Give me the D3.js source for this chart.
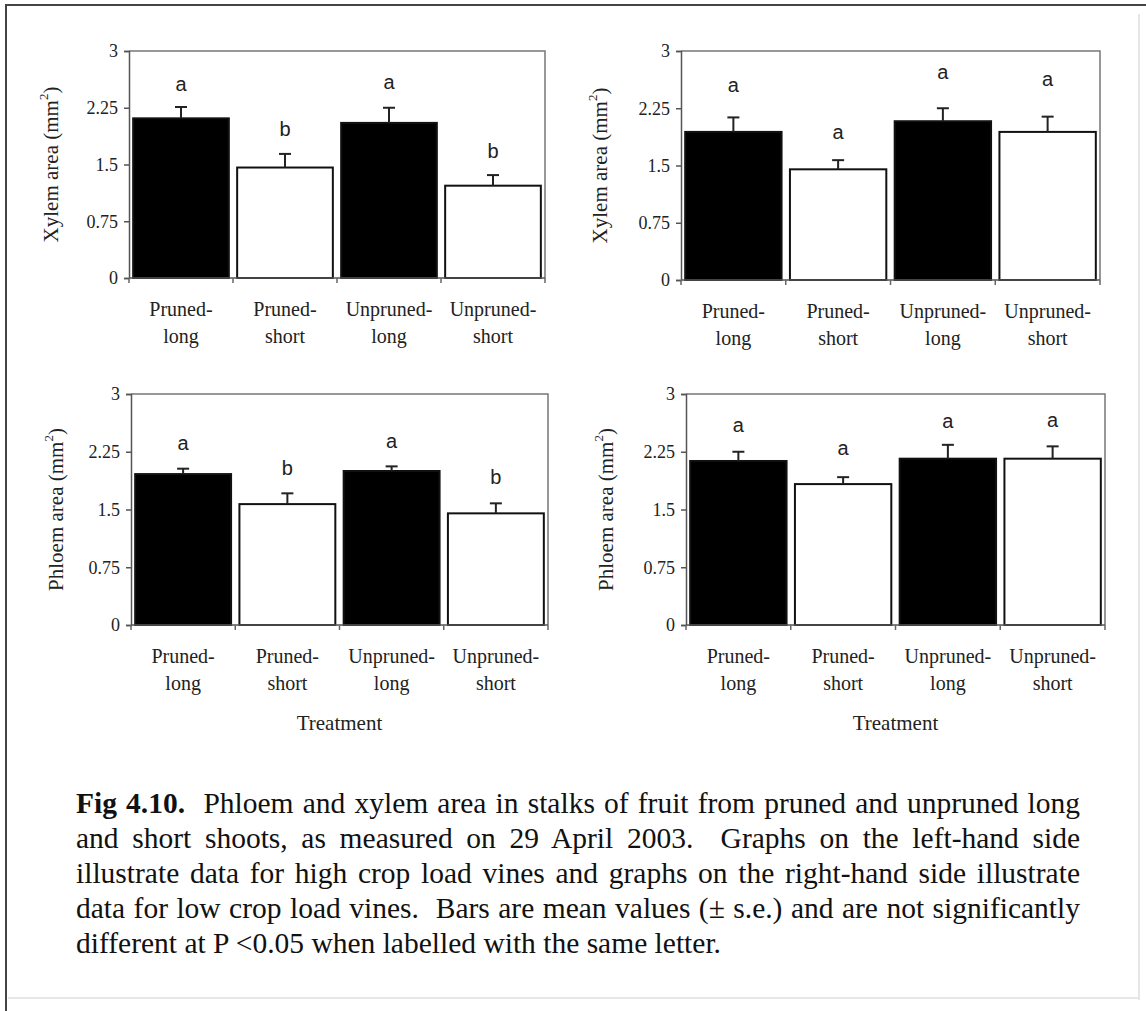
<!DOCTYPE html>
<html>
<head>
<meta charset="utf-8">
<script src="https://cdn.jsdelivr.net/npm/d3@7"></script>
<style>
  body { margin: 0; background: #fff; }
  svg { display: block; }
</style>
</head>
<body>
<div id="chart"></div>
<script>
// --- data ---
const categories = [["Pruned-", "long"], ["Pruned-", "short"], ["Unpruned-", "long"], ["Unpruned-", "short"]]
const barFill = ["#000", "#fff", "#000", "#fff"]
const yTicks = [0, 0.75, 1.5, 2.25, 3]

const xylemHigh = [2.11, 1.46, 2.05, 1.22]
const xylemHighSe = [0.15, 0.18, 0.20, 0.14]
const xylemHighLetters = ["a", "b", "a", "b"]
const xylemHighLetterAt = [2.55, 1.96, 2.58, 1.66]

const xylemLow = [1.94, 1.45, 2.08, 1.94]
const xylemLowSe = [0.19, 0.12, 0.17, 0.20]
const xylemLowLetters = ["a", "a", "a", "a"]
const xylemLowLetterAt = [2.54, 1.93, 2.71, 2.62]

const phloemHigh = [1.96, 1.57, 2.00, 1.45]
const phloemHighSe = [0.07, 0.14, 0.06, 0.13]
const phloemHighLetters = ["a", "b", "a", "b"]
const phloemHighLetterAt = [2.35, 2.03, 2.38, 1.91]

const phloemLow = [2.13, 1.83, 2.16, 2.16]
const phloemLowSe = [0.12, 0.09, 0.18, 0.16]
const phloemLowLetters = ["a", "a", "a", "a"]
const phloemLowLetterAt = [2.58, 2.29, 2.64, 2.65]

const captionLines = [
  ["Fig 4.10.", "  Phloem and xylem area in stalks of fruit from pruned and unpruned long"],
  ["", "and short shoots, as measured on 29 April 2003.  Graphs on the left-hand side"],
  ["", "illustrate data for high crop load vines and graphs on the right-hand side illustrate"],
  ["", "data for low crop load vines.  Bars are mean values (\u00b1 s.e.) and are not significantly"],
  ["", "different at P <0.05 when labelled with the same letter."]
]

const width = 1146
const height = 1011
const serif = "'Liberation Serif', 'Times New Roman', serif"
const sans = "'Liberation Sans', Arial, sans-serif"

const svg = d3.select('#chart').append('svg')
  .attr('width', width)
  .attr('height', height)

// page frame
svg.append('line').attr('x1', 5).attr('x2', width).attr('y1', 5).attr('y2', 5)
  .attr('stroke', '#444').attr('stroke-width', 2)
svg.append('line').attr('x1', 6).attr('x2', 6).attr('y1', 5).attr('y2', height)
  .attr('stroke', '#444').attr('stroke-width', 2)
svg.append('line').attr('x1', 1139).attr('x2', 1139).attr('y1', 14).attr('y2', 1000)
  .attr('stroke', '#e6e6e6').attr('stroke-width', 2)
svg.append('line').attr('x1', 8).attr('x2', 1140).attr('y1', 998).attr('y2', 998)
  .attr('stroke', '#e6e6e6').attr('stroke-width', 2)

const panels = [
  { values: xylemHigh, se: xylemHighSe, letters: xylemHighLetters, letterAt: xylemHighLetterAt,
    title: "Xylem area (mm", box: [129, 545, 51, 278], titleX: 58, xlab: false },
  { values: xylemLow, se: xylemLowSe, letters: xylemLowLetters, letterAt: xylemLowLetterAt,
    title: "Xylem area (mm", box: [681, 1100, 51, 280], titleX: 607, xlab: false },
  { values: phloemHigh, se: phloemHighSe, letters: phloemHighLetters, letterAt: phloemHighLetterAt,
    title: "Phloem area (mm", box: [131, 548, 394, 625], titleX: 63, xlab: true },
  { values: phloemLow, se: phloemLowSe, letters: phloemLowLetters, letterAt: phloemLowLetterAt,
    title: "Phloem area (mm", box: [686, 1105, 394, 625], titleX: 613, xlab: true }
]

panels.forEach(drawPanel)

function drawPanel(p) {
  const [x0, x1, yTop, yZero] = p.box
  const x = d3.scaleBand()
    .domain(d3.range(categories.length))
    .range([x0, x1])
    .paddingInner(0.08)
    .paddingOuter(0.04)
  const y = d3.scaleLinear().domain([0, 3]).range([yZero, yTop])

  const g = svg.append('g')

  // plot area frame (top and right)
  g.append('path')
    .attr('d', `M${x0},${yTop}H${x1}V${yZero}`)
    .attr('fill', 'none')
    .attr('stroke', '#777')
    .attr('stroke-width', 1.5)

  // bars
  g.selectAll('rect.bar')
    .data(p.values)
    .join('rect')
      .attr('class', 'bar')
      .attr('x', (d, i) => x(i))
      .attr('width', x.bandwidth())
      .attr('y', d => y(d))
      .attr('height', d => y(0) - y(d))
      .attr('fill', (d, i) => barFill[i])
      .attr('stroke', '#111')
      .attr('stroke-width', 2)

  // error bars (upper only)
  const err = g.selectAll('g.err')
    .data(p.values)
    .join('g')
      .attr('class', 'err')
      .attr('stroke', '#222')
      .attr('stroke-width', 2)
  err.append('line')
    .attr('x1', (d, i) => x(i) + x.bandwidth() / 2)
    .attr('x2', (d, i) => x(i) + x.bandwidth() / 2)
    .attr('y1', d => y(d))
    .attr('y2', (d, i) => y(d + p.se[i]))
  err.append('line')
    .attr('x1', (d, i) => x(i) + x.bandwidth() / 2 - 6)
    .attr('x2', (d, i) => x(i) + x.bandwidth() / 2 + 6)
    .attr('y1', (d, i) => y(d + p.se[i]))
    .attr('y2', (d, i) => y(d + p.se[i]))

  // significance letters
  g.selectAll('text.letter')
    .data(p.letters)
    .join('text')
      .attr('class', 'letter')
      .attr('x', (d, i) => x(i) + x.bandwidth() / 2)
      .attr('y', (d, i) => y(p.letterAt[i]) + 6)
      .attr('text-anchor', 'middle')
      .attr('font-family', sans)
      .attr('font-size', 20)
      .attr('fill', '#222')
      .text(d => d)

  // y axis
  const yAxis = g.append('g')
    .attr('transform', `translate(${x0},0)`)
    .call(d3.axisLeft(y).tickValues(yTicks).tickFormat(d => d).tickSize(5).tickPadding(6))
  yAxis.select('.domain').attr('stroke', '#555').attr('stroke-width', 1.5)
  yAxis.selectAll('.tick line').attr('stroke', '#555').attr('stroke-width', 1.5)
  yAxis.selectAll('.tick text')
    .attr('font-family', serif)
    .attr('font-size', 18)
    .attr('fill', '#222')

  // x axis: baseline and ticks at band boundaries
  g.append('line')
    .attr('x1', x0).attr('x2', x1)
    .attr('y1', yZero).attr('y2', yZero)
    .attr('stroke', '#555').attr('stroke-width', 1.5)
  const bounds = d3.range(categories.length + 1).map(i => x0 + i * (x1 - x0) / categories.length)
  g.selectAll('line.xtick')
    .data(bounds)
    .join('line')
      .attr('class', 'xtick')
      .attr('x1', d => d).attr('x2', d => d)
      .attr('y1', yZero).attr('y2', yZero + 5)
      .attr('stroke', '#666').attr('stroke-width', 1.5)

  // category labels
  const lab = g.selectAll('text.cat')
    .data(categories)
    .join('text')
      .attr('class', 'cat')
      .attr('text-anchor', 'middle')
      .attr('font-family', serif)
      .attr('font-size', 20)
      .attr('fill', '#222')
  lab.append('tspan')
    .attr('x', (d, i) => x(i) + x.bandwidth() / 2)
    .attr('y', yZero + 38)
    .text(d => d[0])
  lab.append('tspan')
    .attr('x', (d, i) => x(i) + x.bandwidth() / 2)
    .attr('y', yZero + 65)
    .text(d => d[1])

  // y title
  const t = g.append('text')
    .attr('transform', `translate(${p.titleX},${(yTop + yZero) / 2}) rotate(-90)`)
    .attr('text-anchor', 'middle')
    .attr('font-family', serif)
    .attr('font-size', 21)
    .attr('fill', '#222')
  t.append('tspan').text(p.title)
  t.append('tspan').attr('font-size', 13).attr('dy', -10).text('2')
  t.append('tspan').attr('dy', 10).text(')')

  if (p.xlab) {
    g.append('text')
      .attr('x', (x0 + x1) / 2)
      .attr('y', yZero + 105)
      .attr('text-anchor', 'middle')
      .attr('font-family', serif)
      .attr('font-size', 21)
      .attr('fill', '#222')
      .text('Treatment')
  }
}

// caption, word-justified like the original
const capLeft = 76
const capWidth = 1004
captionLines.forEach((line, i) => {
  const txt = svg.append('text')
    .attr('x', capLeft)
    .attr('y', 813 + i * 35)
    .attr('font-family', serif)
    .attr('font-size', 29.5)
    .attr('fill', '#111')
    .style('white-space', 'pre')
  if (line[0]) txt.append('tspan').attr('font-weight', 'bold').text(line[0])
  txt.append('tspan').text(line[1])
  if (i < captionLines.length - 1) {
    const natural = txt.node().getComputedTextLength()
    const gaps = (line[0] + line[1]).split(' ').length - 1
    txt.attr('word-spacing', (capWidth - natural) / gaps)
  }
})
</script>
</body>
</html>
